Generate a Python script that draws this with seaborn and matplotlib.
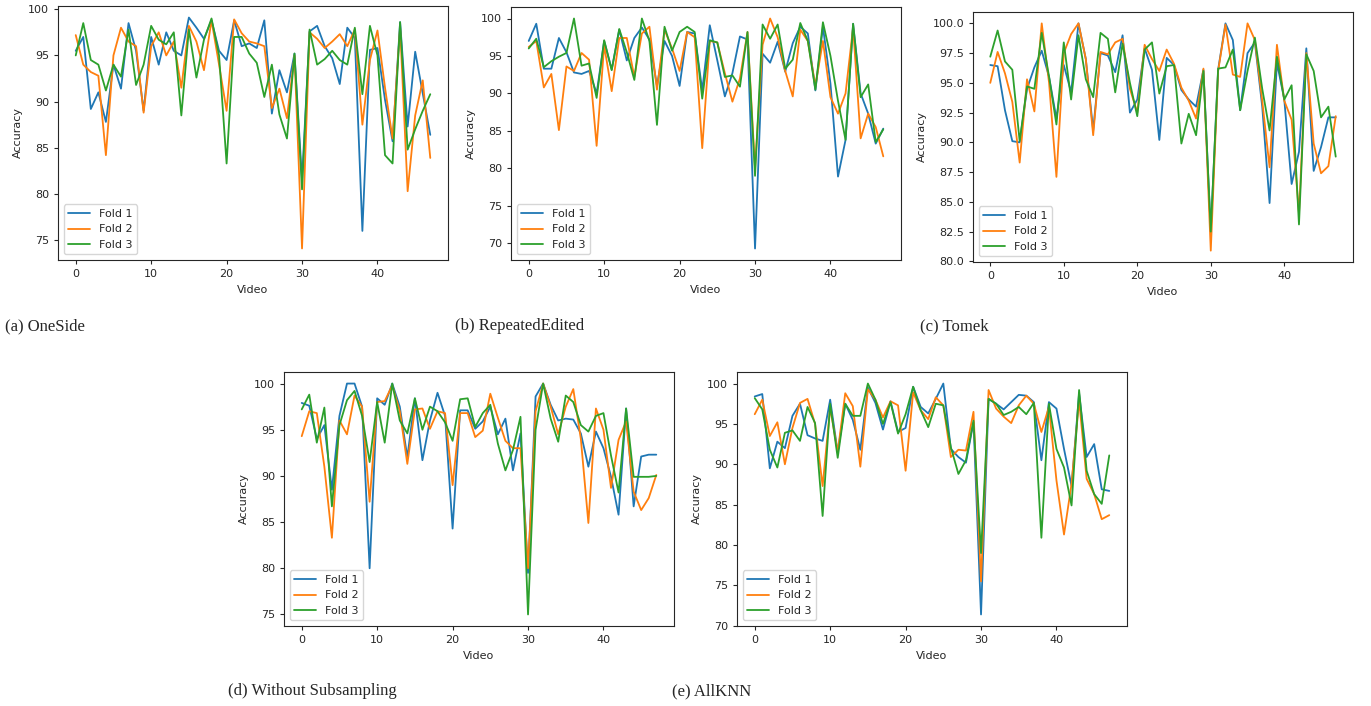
import numpy as np
import pandas as pd
import matplotlib
matplotlib.use("Agg")
import matplotlib.pyplot as plt
import seaborn as sns

videos = list(range(48))
folds = ["Fold 1", "Fold 2", "Fold 3"]

# (a) OneSide
oneside_f1 = [95.5, 97, 89.2, 91, 87.8, 94, 91.4, 98.5, 95.5, 89, 97, 94, 97.5, 95.5, 95, 99.1, 98, 96.8, 98.8, 95.5,
              94.5, 98.8, 96, 96.3, 95.8, 98.8, 88.7, 93.4, 91, 95.2, 81.5, 97.6, 98.2, 96, 94.7, 91.9, 98, 96.9, 76, 95.6,
              95.8, 90.2, 85.7, 98.6, 87.3, 95.4, 90.9, 86.4]
oneside_f2 = [97.2, 94, 93.2, 92.8, 84.2, 95, 98, 96.5, 96, 88.8, 96, 97.5, 95, 96.5, 91.5, 98.2, 96.5, 93.4, 98.8, 94,
              89, 98.9, 97.4, 96.5, 96.3, 96, 89.3, 91.4, 88.2, 95, 74.1, 97.5, 96.8, 95.8, 96.5, 97.3, 96, 97.8, 87.5, 94.5,
              97.7, 91.5, 86, 98, 80.3, 88.5, 92.3, 83.9]
oneside_f3 = [95, 98.5, 94.5, 94, 91.2, 94, 92.7, 97.8, 91.8, 94, 98.2, 96.7, 96.2, 97.5, 88.5, 97.8, 92.6, 96.7, 99, 95,
              83.3, 97, 97, 95.2, 94.2, 90.5, 94, 88.6, 86, 95.2, 80.5, 97.8, 94, 94.6, 95.5, 94.5, 94, 98, 90.8, 98.2,
              95, 84.2, 83.3, 98.6, 84.8, 87, 89, 90.8]

# (b) RepeatedEdited
repeated_f1 = [97, 99.3, 93.3, 93.3, 97.4, 95.5, 92.8, 92.6, 93, 90, 97, 93.2, 98.5, 94.4, 97.4, 98.8, 97.2, 91, 97, 95,
               91, 98.2, 98, 90.4, 99.1, 94.4, 89.6, 92.7, 97.6, 97.2, 69.3, 95.3, 94.1, 96.9, 92.9, 96.7, 98.9, 98, 90.4, 98.9,
               91.3, 78.9, 83.8, 99.3, 90, 87.3, 83.3, 85.3]
repeated_f2 = [96.2, 97, 90.8, 92.6, 85.1, 93.6, 93, 95.4, 94.5, 83, 96.4, 90.3, 97.4, 97.4, 92.2, 98, 98.9, 90.5, 98.5, 96,
               93, 98.2, 97.5, 82.7, 97, 96.8, 92.7, 88.9, 92, 98.2, 80, 96.5, 100, 97.5, 93, 89.6, 98.5, 97, 91, 97,
               89.5, 87.3, 90, 98.8, 84, 87.3, 85.5, 81.6]
repeated_f3 = [96, 97.3, 93.5, 94.3, 94.9, 95.4, 100, 93.7, 94, 89.4, 97.1, 93.1, 98.6, 95.5, 91.8, 100, 97, 85.8, 98.9, 95.7,
               98.2, 98.9, 98.2, 89.3, 97.1, 96.8, 92.2, 92.4, 90.9, 98.2, 79, 99.2, 97.3, 99.2, 93.3, 94.5, 99.4, 97, 90.5, 99.5,
               95, 89, 83.8, 99.3, 89.5, 91.2, 83.5, 85.2]

# (c) Tomek
tomek_f1 = [96.5, 96.4, 92.7, 90.1, 90, 94.5, 96.3, 97.7, 95.5, 92, 96.5, 94.2, 100, 97, 91, 97.5, 97.3, 95.9, 99, 92.5,
            93.6, 97.9, 96.1, 90.2, 97.1, 96.5, 94.4, 93.6, 93, 96.1, 82.5, 96.1, 100, 98.6, 92.7, 97.5, 98.4, 93, 84.9, 96.7,
            93.6, 86.5, 89.2, 97.9, 87.6, 89.6, 92.1, 92.1]
tomek_f2 = [95, 97.6, 95.8, 93.4, 88.3, 95.3, 92.6, 100, 95, 87.1, 97.5, 99.1, 100, 97, 90.6, 97.6, 97.4, 98.4, 98.7, 94.5,
            92.5, 98.2, 97, 96, 97.8, 96.6, 94.6, 93.5, 92, 96.2, 80.9, 96, 99.9, 95.7, 95.5, 100, 98.6, 93.5, 87.9, 98.2,
            93.5, 91.9, 84, 97.5, 89.9, 87.4, 88, 92.2]
tomek_f3 = [97.2, 99.4, 96.8, 96.1, 90.1, 94.7, 94.5, 99.2, 95.5, 91.5, 98.4, 93.6, 99, 95.3, 93.8, 99.2, 98.7, 94.2, 98.3, 95,
            92.2, 97.8, 98.4, 94.1, 96.4, 96.5, 89.9, 92.4, 90.6, 96, 82.5, 96.2, 96.3, 97.8, 92.7, 96, 98.8, 94.5, 91, 97.2,
            93.6, 94.8, 83.1, 97.4, 96, 92.1, 93, 88.8]

# (d) Without Subsampling
nosub_f1 = [97.9, 97.6, 94, 95.5, 88.5, 96.5, 100, 100, 97.5, 80, 98.4, 97.7, 100, 97.5, 92, 98.4, 91.7, 96, 99, 96.5,
            84.3, 97.1, 97.1, 95.1, 95.9, 97.5, 94.5, 96.2, 90.6, 94.6, 79.5, 98.6, 100, 97.7, 96, 96.2, 96.1, 94.6, 91, 94.8,
            93, 89.9, 85.8, 97.3, 86.7, 92.1, 92.3, 92.3]
nosub_f2 = [94.3, 97, 96.8, 91, 83.3, 96, 94.5, 98.7, 97.5, 87.2, 98, 98.1, 99.8, 97, 91.3, 97.2, 97.3, 95.1, 97, 96.8,
            89, 96.8, 96.8, 94.2, 94.9, 98.9, 96.3, 93.8, 93, 93, 80, 97, 100, 97.5, 94.5, 97.5, 99.4, 94, 84.9, 97.3,
            95, 88.7, 93.9, 95.9, 88.3, 86.3, 87.6, 90.1]
nosub_f3 = [97.2, 98.8, 93.6, 97.4, 86.7, 95.5, 98.2, 99.2, 96.5, 91.5, 98, 93.6, 100, 96, 94.6, 98.4, 95, 97.5, 97, 95.8,
            93.8, 98.3, 98.4, 95.3, 96.8, 97.7, 93.5, 90.6, 92.8, 96.4, 75, 95, 100, 96.2, 93.7, 98.7, 98, 95.5, 94.8, 96.5,
            96.8, 92.2, 88.2, 97.3, 89.9, 89.9, 89.9, 90]

# (e) AllKNN
allknn_f1 = [98.4, 98.7, 89.5, 92.8, 92, 96, 97.5, 93.6, 93.2, 92.9, 98, 91.5, 97.5, 95.5, 91.8, 99.5, 97.6, 94.3, 97.8, 94,
             94.5, 99.6, 97.1, 96.3, 98.1, 100, 91.9, 90.9, 90.2, 95.2, 71.4, 98.1, 97.5, 96.8, 97.7, 98.6, 98.5, 97.7, 90.5, 97.7,
             96.9, 91.9, 87.3, 98.8, 90.9, 92.5, 86.9, 86.7]
allknn_f2 = [96.2, 98, 93.5, 95.2, 90, 94.5, 97.6, 98.1, 95, 87.3, 97, 91.5, 98.8, 97.2, 89.7, 99.3, 98, 95.8, 97.8, 97.3,
             89.2, 98.9, 96.7, 95.6, 98.3, 97.3, 90.9, 91.8, 91.7, 96.5, 75.5, 99.2, 96.9, 95.9, 95.1, 97.3, 98.5, 97.5, 94, 97.1,
             88, 81.3, 87.6, 97.9, 88.2, 86.3, 83.2, 83.7]
allknn_f3 = [98.2, 96.8, 91.8, 89.6, 93.9, 94.2, 92.9, 97.1, 95.1, 83.6, 97.5, 90.8, 97.5, 96, 96, 100, 98, 95, 97.7, 93.8,
             96.2, 99.6, 96.7, 94.6, 97.5, 97.3, 92.1, 88.8, 90.5, 95.4, 79, 98.1, 97.5, 96.1, 96.5, 97.1, 96.2, 97.6, 80.9, 97.5,
             91.9, 89.6, 84.9, 99.2, 89.2, 86.3, 85.1, 91.1]

captions = ["(a) OneSide", "(b) RepeatedEdited", "(c) Tomek", "(d) Without Subsampling", "(e) AllKNN"]
panels = [
    (oneside_f1, oneside_f2, oneside_f3),
    (repeated_f1, repeated_f2, repeated_f3),
    (tomek_f1, tomek_f2, tomek_f3),
    (nosub_f1, nosub_f2, nosub_f3),
    (allknn_f1, allknn_f2, allknn_f3),
]

sns.set_style("ticks")
plt.rcParams['font.family'] = ['DejaVu Sans']

W, H = 1371, 706
fig = plt.figure(figsize=(W / 100, H / 100), dpi=100)

# axes boxes in pixels: left, top, right, bottom
boxes = [(58, 6, 448, 260), (511, 7, 901, 260), (973, 12, 1353, 262),
         (284, 372, 674, 626), (737, 372, 1127, 626)]
caption_pos = [(5, 326), (455, 326), (920, 326), (228, 691), (672, 691)]

for i, (series, box, cap) in enumerate(zip(panels, boxes, captions)):
    l, t, r, b = box
    ax = fig.add_axes([l / W, 1 - b / H, (r - l) / W, (b - t) / H])
    df = pd.DataFrame({
        "Video": videos * 3,
        "Accuracy": series[0] + series[1] + series[2],
        "Fold": sum([[f] * len(videos) for f in folds], []),
    })
    sns.lineplot(data=df, x="Video", y="Accuracy", hue="Fold", palette="tab10",
                 linewidth=1.3, ax=ax)
    ax.tick_params(labelsize=8, length=3)
    ax.set_xlabel("Video", fontsize=8)
    ax.set_ylabel("Accuracy", fontsize=8)
    for s in ax.spines.values():
        s.set_linewidth(0.8)
    sns.move_legend(ax, "lower left", title=None, fontsize=8, frameon=True)
    cx, cy = caption_pos[i]
    fig.text(cx / W, 1 - cy / H, cap, fontsize=12, family="Liberation Serif", va="center", ha="left")

fig.savefig("out.png", dpi=100)
